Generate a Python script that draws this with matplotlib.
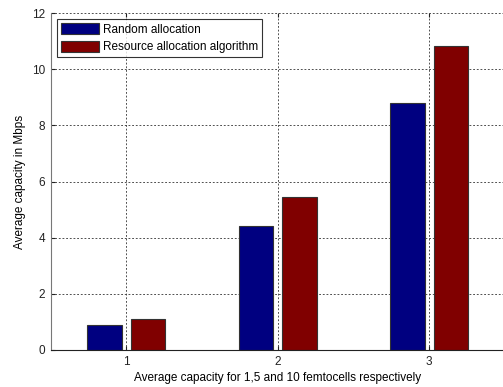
import matplotlib
matplotlib.use("Agg")
import matplotlib.pyplot as plt
import numpy as np

groups = [1, 2, 3]
random_alloc = [0.89, 4.43, 8.81]
resource_alloc = [1.10, 5.44, 10.84]
series_names = ["Random allocation", "Resource allocation algorithm"]
xlabel = "Average capacity for 1,5 and 10 femtocells respectively"
ylabel = "Average capacity in Mbps"
yticks = [0, 2, 4, 6, 8, 10, 12]

plt.rcParams["font.family"] = ["Liberation Sans", "DejaVu Sans"]
FS = 8.5

fig = plt.figure(figsize=(5.03, 3.87), dpi=100)
W, H = 503, 387
ax = fig.add_axes([50.5 / W, 37 / H, (505 - 50.5) / W, 337 / H])

x = np.array(groups, dtype=float)
width = 0.228
offset = 0.145
ax.bar(x - offset, random_alloc, width, color="#000080", edgecolor="#333333",
       linewidth=0.8, label=series_names[0], zorder=2)
ax.bar(x + offset, resource_alloc, width, color="#800000", edgecolor="#333333",
       linewidth=0.8, label=series_names[1], zorder=2)

ax.set_xlim(0.5, 3.5)
ax.set_ylim(0, 12)
ax.set_xticks(groups)
ax.set_yticks(yticks)
ax.tick_params(direction="in", length=3, labelsize=FS, colors="#222222", pad=4)
ax.tick_params(axis="x", top=True)

ax.grid(True, color="#333333", linestyle=(0, (2.2, 2.2)), linewidth=0.6, zorder=0)
ax.set_axisbelow(True)

for side in ("top", "right"):
    ax.spines[side].set_visible(False)
ax.spines["left"].set_color("#777777")
ax.spines["bottom"].set_color("#222222")

ax.set_xlabel(xlabel, fontsize=FS, labelpad=3)
ax.set_ylabel(ylabel, fontsize=FS, labelpad=4)

leg = ax.legend(loc="upper left", bbox_to_anchor=(6.5 / 454.5, 1 - 6 / 337),
                fontsize=FS, frameon=True, fancybox=False, edgecolor="#000000",
                handlelength=3.2, handleheight=1.1, handletextpad=0.35,
                borderpad=0.35, labelspacing=0.4, borderaxespad=0)
leg.get_frame().set_linewidth(0.8)

fig.savefig("out.png", dpi=100)
